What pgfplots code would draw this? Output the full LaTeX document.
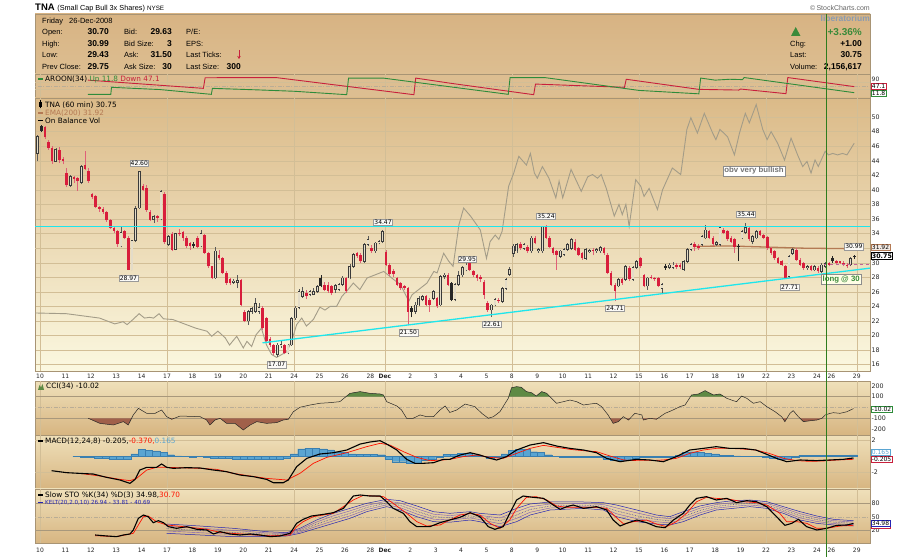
\documentclass[border=0pt]{standalone}
\usepackage{pgfplots}
\pgfplotsset{compat=1.18}
\usepackage{pgfplotstable}
\usetikzlibrary{arrows.meta}
\usepackage{fontspec}
\setmainfont{Liberation Sans}
\newfontfamily\dv{DejaVu Sans}

\definecolor{cRed}{HTML}{D81E3C}
\definecolor{cWickRed}{HTML}{E06078}
\definecolor{cHollow}{HTML}{3A3A3A}
\definecolor{cHollowIn}{HTML}{E4DCC8}
\definecolor{cCyan}{HTML}{1EE6EC}
\definecolor{cObv}{HTML}{A39C88}
\definecolor{cEma}{HTML}{B47A54}
\definecolor{cAUp}{HTML}{2E8B3A}
\definecolor{cADn}{HTML}{C8203C}
\definecolor{cGrid}{HTML}{D2BE96}
\definecolor{cGridD}{HTML}{A8987C}
\definecolor{cBorder}{HTML}{A89474}
\definecolor{cCciG}{HTML}{5E8A44}
\definecolor{cCciB}{HTML}{A0604A}
\definecolor{cHist}{HTML}{5AA5D2}
\definecolor{cHistEdge}{HTML}{3A7FB0}
\definecolor{cKelt}{HTML}{2424B4}
\definecolor{cKeltIn}{HTML}{7A5AB8}
\definecolor{cVline}{HTML}{2E7D1E}
\definecolor{cInfoT}{HTML}{D7B383}
\definecolor{cInfoB}{HTML}{DDBE91}
\definecolor{cPanT}{HTML}{EFE0BA}
\definecolor{cPanB}{HTML}{D7B581}
\definecolor{cMainT}{HTML}{DBBA88}
\definecolor{cMainM}{HTML}{F0DDB0}
\definecolor{cMainB}{HTML}{FBF8E0}
\definecolor{cGreenT}{HTML}{3A8A3A}
\definecolor{cLib}{HTML}{8A9BB0}

% ---------------- candles: x o h l c ----------------
\pgfplotstableread{
x o h l c
-1 45.0 47.5 43.9 47.3
4 43.9 45.8 43.8 45.5
8 40.6 42.0 40.4 41.8
11 41.0 43.4 40.8 43.2
22 32.3 34.9 32.1 34.1
25 29.0 33.1 28.97 33.0
26 33.0 37.8 32.8 37.5
27 37.5 42.6 37.4 42.5
31 35.9 36.6 35.5 36.4
33 36.0 40.0 35.8 39.8
35 32.5 33.8 32.3 33.6
37 31.8 34.1 31.7 34.0
44 32.3 34.5 32.1 34.0
48 27.9 32.2 27.8 31.6
53 27.3 27.7 27.1 27.5
54 27.3 28.3 26.5 27.6
57 22.0 23.5 21.5 23.3
58 23.3 23.9 23.0 23.7
59 23.3 25.1 23.1 24.4
60 23.3 24.5 23.0 23.9
65 17.4 19.0 17.07 18.7
66 18.6 19.2 18.3 18.8
68 17.6 18.8 17.4 18.7
69 18.7 22.6 18.6 22.4
70 22.4 24.0 22.2 23.8
71 23.8 26.4 23.6 26.0
72 25.4 26.6 25.2 26.0
74 25.6 26.2 25.4 26.0
75 25.6 26.5 25.5 26.0
76 26.0 26.9 25.9 26.7
81 26.3 27.1 25.9 26.9
82 26.3 27.2 26.1 27.0
83 27.0 28.2 26.8 27.9
85 27.9 29.8 27.7 29.5
86 29.5 31.3 29.3 31.1
89 30.2 32.7 30.0 32.5
90 32.5 33.6 32.3 33.2
92 31.6 32.9 31.4 32.7
93 32.7 33.1 32.5 32.9
94 32.9 34.47 32.7 34.3
103 23.3 24.6 23.0 24.2
104 24.2 25.4 24.0 25.1
105 24.9 25.6 24.7 25.4
108 25.1 26.2 24.9 26.0
110 24.2 28.3 24.0 28.1
111 28.1 28.6 27.8 28.3
114 24.9 27.2 24.7 27.0
115 27.0 28.8 26.8 28.3
116 28.3 29.5 28.1 29.3
117 29.0 29.95 28.8 29.7
124 23.5 24.4 22.61 24.2
125 24.2 25.1 24.0 24.9
127 24.7 26.7 24.5 26.5
128 26.5 27.9 26.3 27.7
129 28.4 29.4 28.2 29.1
130 31.3 32.5 30.8 32.3
131 31.6 32.7 31.4 32.5
133 32.0 32.7 31.8 32.5
135 31.6 33.6 31.4 33.4
137 31.6 32.0 31.4 31.8
138 31.6 35.1 31.4 35.0
143 30.9 31.8 30.7 31.6
144 31.1 32.0 30.9 31.8
145 31.8 32.7 31.6 32.5
146 32.0 33.4 31.8 33.2
150 30.6 32.0 30.4 31.8
151 31.5 31.9 31.3 31.7
153 31.6 32.0 31.4 31.8
154 31.6 32.3 31.4 32.1
159 26.8 27.9 26.6 27.7
161 27.7 29.7 27.5 29.5
163 27.7 29.5 27.5 29.3
164 29.3 30.4 29.1 30.2
167 26.8 28.1 26.3 27.9
171 26.5 27.2 25.7 27.0
173 29.3 29.9 29.1 29.7
174 29.3 30.1 29.1 29.7
177 29.1 30.4 28.9 30.2
178 30.2 32.0 30.0 31.8
179 31.8 32.7 31.6 32.5
182 32.5 33.8 32.3 33.6
183 33.4 35.2 33.2 34.5
186 32.5 33.0 32.3 32.8
187 32.5 35.0 32.3 34.8
193 33.4 34.5 33.2 34.3
194 34.1 35.44 33.9 34.8
196 32.9 33.8 32.5 33.6
197 33.4 34.5 33.2 34.3
206 28.1 31.0 27.9 30.9
207 31.3 32.0 31.1 31.8
211 29.3 29.7 29.0 29.5
213 29.0 29.7 28.8 29.5
215 28.8 29.9 28.6 29.7
216 29.5 30.1 29.3 29.9
223 29.7 30.8 29.5 30.6
}\upC

\pgfplotstableread{
x o h l c
0 48.8 48.9 47.9 48.1
42 32.6 32.8 32.0 32.3
77 27.9 28.3 26.6 26.8
102 23.8 24.0 22.5 23.3
113 27.2 27.4 24.7 24.9
172 29.6 29.8 29.0 29.3
192 32.3 32.5 30.2 32.1
218 30.7 30.9 30.0 30.2
224 30.85 30.99 30.5 30.75
}\bkC

\pgfplotstableread{
x o h l c
1 48.6 48.7 47.0 47.2
2 46.6 46.9 45.5 45.8
3 45.8 46.0 43.6 43.9
5 45.5 45.9 43.7 44.1
6 44.3 44.5 43.5 44.0
7 42.3 43.0 40.4 40.6
9 41.7 41.9 41.0 41.5
10 41.6 41.8 39.9 41.2
12 43.4 45.3 42.7 42.9
13 42.6 43.0 41.0 41.2
14 39.4 39.6 38.8 39.0
15 39.2 39.3 37.5 37.7
16 37.6 37.8 37.0 37.4
17 37.4 37.6 36.7 37.0
18 37.0 37.1 35.6 35.8
19 35.8 36.0 34.6 34.8
20 34.8 35.0 34.1 34.4
21 34.3 34.5 32.2 32.5
23 34.3 34.5 33.2 33.4
24 33.4 33.6 28.97 29.0
28 40.5 40.8 39.8 40.0
29 40.2 40.6 37.0 37.3
30 37.0 37.2 35.7 35.9
32 36.4 36.6 35.6 36.2
34 39.5 39.7 32.6 32.8
36 34.0 34.2 31.6 31.8
38 34.1 34.6 33.6 33.9
39 34.2 34.4 33.0 33.4
40 33.4 33.6 32.0 32.3
41 32.7 32.9 31.8 32.3
43 33.4 33.6 32.0 32.2
45 33.8 34.0 31.2 31.4
46 31.3 31.5 29.3 29.5
47 29.5 29.6 27.7 27.9
49 31.1 31.8 30.4 30.6
50 30.6 30.8 28.4 28.6
51 28.6 28.8 27.0 27.2
52 27.7 27.9 27.0 27.2
55 27.6 27.8 24.0 24.2
56 23.3 23.5 21.8 22.0
61 23.8 24.0 20.8 21.0
62 22.4 22.6 19.0 19.2
63 19.5 19.8 18.4 18.7
64 18.7 18.9 17.3 17.6
67 18.7 18.9 17.4 17.6
73 25.9 26.2 25.0 25.4
78 27.0 27.4 26.1 26.3
79 27.0 27.3 25.9 26.1
80 26.8 27.0 25.5 25.8
84 27.9 28.1 25.9 26.1
87 31.3 31.5 30.7 30.9
88 31.1 31.3 30.0 30.2
91 32.0 32.4 31.4 31.6
95 31.5 31.7 29.5 29.7
96 29.7 29.9 28.2 28.4
97 28.8 29.1 28.0 28.4
98 27.9 28.1 26.8 27.0
99 27.2 27.4 26.3 26.5
100 26.8 27.0 26.2 26.5
101 26.5 26.6 21.5 23.3
106 25.4 25.6 24.0 24.2
107 24.9 25.1 23.3 24.2
109 25.1 25.3 23.8 24.0
112 28.3 28.6 26.8 27.0
118 29.9 29.95 28.8 29.0
119 28.8 29.0 28.1 28.3
120 28.3 28.5 27.5 27.9
121 28.1 28.3 27.3 27.7
122 27.4 27.6 25.0 25.6
123 24.5 24.8 23.3 23.5
126 24.9 25.2 24.5 24.7
132 32.5 32.8 31.8 32.0
134 32.2 32.4 31.4 31.6
136 33.4 33.6 32.5 32.7
139 35.0 35.24 33.2 33.4
140 33.4 33.6 32.0 32.2
141 32.0 32.2 31.1 31.3
142 31.6 31.8 29.0 31.1
147 32.9 33.2 31.6 31.8
148 32.0 32.2 30.9 31.1
149 31.3 31.5 30.4 30.6
152 31.8 32.0 31.0 31.6
155 32.0 32.2 31.1 31.3
156 31.1 31.3 28.4 28.6
157 28.6 28.8 26.8 27.0
158 27.0 27.2 24.71 26.1
160 27.7 27.9 27.0 27.2
162 29.3 29.5 27.5 27.7
165 30.6 30.8 29.3 29.5
166 28.3 28.5 26.6 26.8
168 28.1 28.3 27.7 27.9
169 27.9 28.1 27.5 27.7
170 27.9 28.1 26.6 26.8
175 29.7 29.9 29.2 29.4
176 29.7 29.9 29.2 29.4
180 32.5 32.8 31.6 32.2
181 32.3 32.5 31.8 32.0
184 34.3 34.5 33.2 33.4
185 33.4 33.6 32.3 32.5
188 34.5 34.8 33.9 34.1
189 34.3 34.5 33.0 33.2
190 33.4 33.6 32.7 32.9
191 33.2 33.4 31.4 32.2
195 34.7 34.9 33.0 33.2
198 34.3 34.5 33.6 33.8
199 33.8 34.0 33.2 33.4
200 33.5 33.7 31.8 32.0
201 32.0 32.2 31.1 31.3
202 31.6 31.8 30.4 30.6
203 30.6 30.8 29.8 30.0
204 30.2 30.4 29.5 29.7
205 29.5 29.7 27.71 27.9
208 31.8 32.0 30.2 30.4
209 30.4 30.6 29.5 29.7
210 29.9 30.1 29.0 29.3
212 29.5 29.7 28.8 29.0
214 29.3 29.5 28.6 28.8
217 29.9 30.1 29.5 29.7
219 30.2 30.4 29.8 30.0
220 30.2 30.3 29.8 30.0
221 30.0 30.2 29.5 29.7
222 29.7 29.9 29.3 29.5
}\dnC

\pgfplotstableread{
x y
-1.4 23.1
7.3 23.0
16.4 22.4
20.6 21.6
22.9 21.9
24.0 21.5
25.6 22.2
27.3 23.0
28.8 22.4
30.2 22.5
31.3 22.4
32.8 23.0
34.0 22.3
36.6 22.2
40.3 21.5
43.0 21.0
46.0 20.6
47.3 19.9
49.0 20.6
51.0 19.7
52.2 18.7
54.2 19.9
56.0 18.3
57.0 19.2
58.3 18.5
59.5 20.1
61.0 21.0
62.4 18.7
63.8 17.4
65.2 17.0
66.6 17.4
68.1 17.8
69.6 19.7
70.7 21.5
72.1 22.4
73.4 21.3
75.3 22.2
77.1 23.9
78.5 23.5
79.9 24.0
81.7 24.0
83.2 25.4
84.5 26.1
86.3 27.2
88.1 26.3
90.1 27.9
94.7 28.8
97.4 27.7
99.3 27.0
101.6 24.7
102.5 25.6
104.8 26.5
106.6 27.2
108.5 28.8
109.4 28.6
111.2 31.3
112.6 30.2
113.8 29.5
115.4 35.2
116.7 37.5
118.6 36.4
121.3 34.5
123.0 30.6
124.0 32.9
125.4 33.8
126.4 33.2
127.3 34.3
129.1 40.5
130.5 42.3
131.9 44.6
134.0 43.4
135.1 45.0
136.2 42.3
137.0 41.6
138.4 43.2
140.2 41.6
142.1 38.9
143.0 41.2
144.0 38.9
146.3 42.8
149.1 39.8
150.9 41.8
152.2 42.1
153.6 41.6
154.6 42.1
156.0 40.2
158.2 36.4
159.5 38.0
160.4 36.6
161.4 38.0
162.3 35.0
164.1 41.4
165.5 40.5
166.4 39.1
167.8 40.2
170.1 37.3
171.5 40.0
174.2 43.0
176.5 42.1
178.2 48.3
179.3 49.9
181.1 47.8
183.0 50.5
185.3 47.8
186.2 46.9
187.3 48.3
189.4 47.3
191.3 44.8
192.7 47.8
194.3 50.5
195.4 49.2
197.3 51.7
199.1 48.3
200.3 46.9
201.4 48.0
203.2 46.4
205.1 44.1
206.9 47.1
208.7 44.8
210.1 43.2
211.3 43.9
212.4 42.3
213.5 44.1
214.4 43.2
216.3 45.3
217.2 44.8
218.4 45.0
219.7 44.8
221.1 45.0
222.3 44.8
224.3 46.4
}\obv

\pgfplotstableread{
x y
13.2 2
19.5 2
19.7 43
33 30
47.2 2
47.5 37
60 28
70 20
84.5 0
85 97
94.5 97
113 46
129 2
129.5 100
139 100
165 25
181.5 5
182 97
186 85
190 90
193.5 88
194 100
224.3 11.8
}\aup

\pgfplotstableread{
x y
13.2 85
45 37
45.5 99
65 100
103 0
103.5 97
113 67
136 0
136.5 62
161 43
161.5 90
181.5 31
192.5 27
193 33
205.5 6
206 100
224.3 47.1
}\adn

\pgfplotstableread{
x y
13.3 -100
16.5 -147
20.2 -162
23.0 -131
24.3 -162
25.7 -69
27.1 -8
29.4 -54
31.7 -54
33.5 -23
34.9 -85
36.3 -109
38.6 -79
44.1 -85
45.9 -116
46.8 -162
48.2 -116
49.6 -100
51.4 -147
53.7 -147
56.0 -208
57.9 -162
59.7 -131
62.4 -147
65.2 -140
67.0 -116
68.4 -109
69.8 -39
71.6 2
74.4 23
77.1 39
79.9 45
82.6 54
85.4 131
88.2 147
90.9 131
93.7 125
94.6 116
95.5 54
98.3 14
99.6 -23
101.0 -100
102.8 -100
104.7 -69
106.5 -85
108.4 -85
110.2 -23
111.6 14
112.9 -46
114.8 -23
117.1 32
119.8 8
121.7 -54
123.5 -100
124.9 -85
126.7 -39
129.0 85
129.9 183
131.3 193
132.6 187
134.0 147
135.4 137
136.7 106
138.2 147
139.6 131
140.9 85
142.3 39
144.2 54
146.0 69
147.8 54
149.7 23
151.5 32
153.3 39
154.7 8
156.5 -69
157.9 -147
159.3 -131
160.7 -85
162.1 -116
163.9 -54
165.8 -69
166.2 -116
168.0 -100
169.8 -109
172.2 -54
174.0 -29
176.3 8
177.7 23
179.5 116
181.4 125
183.2 156
185.5 116
187.3 125
189.2 85
191.0 63
191.9 54
193.3 106
194.7 85
196.5 39
198.4 54
200.2 8
202.5 -39
204.3 -85
205.2 -131
206.6 -54
207.5 -29
208.9 -85
210.3 -131
212.3 -122
214.0 -116
215.4 -100
216.3 -69
217.7 -54
218.6 -48
220.4 -54
222.3 -39
224.1 -10
}\cci

\pgfplotstableread{
x y
3.2 -1.76
7.3 -2.00
11.0 -2.09
14.7 -2.17
18.4 -2.58
22.0 -2.90
24.8 -3.31
26.2 -2.82
27.5 -1.68
29.4 -1.35
32.1 -1.35
33.5 -0.94
34.9 -1.35
36.7 -1.47
40.4 -1.39
44.1 -1.43
47.8 -1.68
51.4 -1.88
55.1 -2.29
58.8 -2.49
62.4 -2.82
64.3 -3.23
67.0 -3.23
68.4 -2.90
70.7 -1.27
73.5 -0.25
77.1 0.28
80.8 0.44
84.5 0.77
88.2 1.50
90.9 1.75
93.7 1.91
95.5 1.50
98.3 0.77
101.0 -0.37
103.3 -0.86
105.6 -0.86
108.4 -0.78
111.1 -0.37
112.9 -0.37
115.7 0.16
118.5 0.44
121.2 0.16
124.0 -0.25
125.8 -0.45
128.5 -0.04
131.3 0.77
135.0 1.38
138.7 1.67
142.3 1.26
146.0 0.97
149.7 0.77
153.3 0.44
156.1 -0.25
159.8 -0.66
164.4 -0.37
168.0 -0.45
171.7 -0.66
175.3 -0.04
179.0 0.77
182.7 0.97
186.3 1.18
190.0 0.97
193.6 0.97
197.2 0.77
200.0 0.28
202.9 -0.25
205.7 -0.66
209.4 -0.45
213.9 -0.53
217.6 -0.45
221.3 -0.37
224.1 -0.205
}\macdK

\pgfplotstableread{
x y
11.0 -2.09
16.5 -2.41
22.0 -2.82
24.8 -2.98
26.6 -2.70
29.4 -1.68
32.1 -1.35
34.9 -1.35
44.1 -1.47
48.7 -1.60
53.3 -2.09
57.8 -2.41
62.4 -2.70
68.0 -2.90
71.6 -2.09
75.3 -0.86
79.0 -0.13
84.5 0.44
90.0 1.18
93.7 1.59
96.4 1.38
100.1 0.57
103.8 -0.13
107.4 -0.53
111.1 -0.45
112.9 -0.37
116.6 -0.04
120.2 0.16
124.0 -0.13
127.6 -0.25
131.3 0.36
135.0 0.97
138.7 1.34
142.3 1.10
146.0 0.85
149.7 0.69
153.3 0.57
157.0 0.04
160.8 -0.45
164.4 -0.53
168.0 -0.53
171.7 -0.45
175.3 -0.25
179.0 0.36
182.7 0.77
186.3 0.97
190.0 0.97
193.6 0.89
197.2 0.77
200.9 0.36
204.8 -0.25
208.5 -0.53
212.1 -0.62
215.8 -0.57
219.5 -0.45
224.1 -0.37
}\macdS

\pgfplotstableread{
x y
10 -0.03
12 -0.05
14 -0.15
16 -0.25
18 -0.25
20 -0.35
22 -0.37
24 -0.37
26 0.3
28 0.85
30 0.75
32 0.65
34 0.45
36 0.2
38 0.05
40 0.02
42 -0.05
44 0.02
46 -0.1
48 -0.2
50 -0.2
52 -0.25
54 -0.35
56 -0.37
58 -0.37
60 -0.37
62 -0.37
64 -0.37
66 -0.35
68 -0.2
70 0.3
72 0.9
74 1.0
76 1.0
78 0.9
80 0.8
82 0.57
84 0.5
86 0.3
88 0.28
90 0.28
92 0.25
94 0.2
96 -0.3
98 -0.66
100 -0.66
102 -0.86
104 -0.8
106 -0.45
108 -0.3
110 -0.1
112 0.25
114 0.28
116 0.35
118 0.37
120 0.2
122 0.02
124 -0.2
126 -0.15
128 0.3
130 0.7
132 0.85
134 0.85
136 0.57
138 0.5
140 0.2
142 0.02
144 -0.12
146 -0.12
148 -0.12
150 -0.12
152 -0.12
154 -0.15
156 -0.3
158 -0.45
160 -0.45
162 -0.45
164 -0.2
166 -0.08
168 -0.08
170 -0.08
172 -0.08
174 -0.05
176 0.15
178 0.5
180 0.57
182 0.5
184 0.37
186 0.3
188 0.15
190 0.12
192 0.05
194 0.02
196 0.02
198 0.02
200 -0.15
202 -0.2
204 -0.37
206 -0.3
208 -0.1
210 0.12
212 0.12
214 0.12
216 0.12
218 0.12
220 0.14
222 0.15
224 0.165
}\hist

\pgfplotstableread{
x y
15.2 9.0
18.4 6.8
21.1 5.3
23.0 9.0
24.8 11.3
25.7 20.3
27.1 46.5
28.5 53.9
29.8 50.2
31.2 36.7
32.6 41.2
34.0 36.7
35.4 27.7
37.6 24.0
40.4 27.7
43.2 21.8
45.9 20.3
47.8 11.3
49.6 16.5
52.3 11.3
55.1 9.0
57.9 11.3
60.6 9.0
63.4 5.3
66.1 6.8
68.9 12.8
70.7 35.2
72.5 44.2
74.8 51.7
78.1 55.4
80.8 59.2
83.6 68.9
86.3 96.6
88.2 98.9
90.9 96.6
93.7 96.6
95.5 83.9
97.3 68.9
100.1 57.7
101.9 39.0
103.8 27.7
107.4 27.7
110.2 36.7
112.5 42.0
115.7 48.7
118.5 59.2
121.2 50.2
123.5 27.7
125.3 21.8
127.6 27.7
129.4 57.7
131.3 87.7
133.1 96.6
135.8 93.7
138.7 91.4
141.4 76.4
143.3 66.7
145.1 72.7
146.9 76.4
149.7 68.9
153.3 72.7
156.1 65.2
157.9 42.7
159.8 29.2
161.6 35.2
164.4 42.7
167.1 36.7
169.8 27.7
172.2 25.5
174.5 42.7
177.2 57.7
179.0 76.4
180.9 91.4
183.6 95.2
186.3 87.7
189.2 91.4
191.9 81.7
194.7 86.2
197.4 83.9
200.2 72.7
202.9 50.2
205.2 30.7
207.1 35.2
208.9 44.2
211.2 27.7
214.0 20.3
216.7 24.0
219.5 30.7
222.3 31.5
224.1 34.98
}\stoK

\pgfplotstableread{
x y
15.2 7.5
21.1 5.3
25.7 12.8
28.5 50.2
29.8 51.7
32.1 39.0
34.9 31.5
40.4 27.0
45.9 22.0
49.6 15.0
52.3 13.0
57.9 10.0
63.4 7.0
68.9 9.0
70.7 27.7
72.5 39.0
75.3 50.2
80.8 57.7
86.3 87.7
89.1 98.2
94.6 95.2
97.3 80.2
101.0 57.7
103.8 39.0
106.5 29.2
110.2 31.5
112.0 39.0
115.7 53.9
118.5 57.7
121.2 53.9
124.0 35.2
126.7 24.0
129.4 42.7
131.3 68.9
134.0 93.7
136.7 95.2
139.6 87.7
142.3 74.2
145.1 71.2
149.7 71.2
153.3 71.2
156.1 68.9
159.0 46.5
160.8 33.7
163.5 39.0
167.1 42.7
169.8 33.7
172.6 27.7
175.3 39.0
178.1 57.7
180.9 83.9
183.6 93.7
186.3 91.4
190.0 89.2
193.6 83.9
197.4 81.7
200.2 76.4
203.8 57.7
205.7 39.0
208.5 39.0
211.2 35.2
214.0 24.0
216.7 24.0
220.4 29.2
224.1 30.7
}\stoD

\pgfplotstableread{
x up iu mid il lo
34.9 33.7 28.5 23.3 18.1 12.8
44.1 29.2 24.2 19.1 14.1 9.0
53.3 24.0 19.4 14.7 10.0 5.3
62.4 16.5 13.7 10.9 8.1 5.3
68.0 14.3 12.5 10.6 8.7 6.8
71.6 24.0 21.2 18.4 15.6 12.8
76.2 42.7 38.1 33.4 28.7 24.0
80.8 57.7 52.1 46.5 40.9 35.2
85.4 68.9 63.3 57.7 52.1 46.5
90.0 80.2 75.5 70.8 66.1 61.4
95.5 89.2 85.1 81.0 76.9 72.7
99.2 86.2 81.0 75.7 70.5 65.2
103.8 74.2 68.2 62.2 56.2 50.2
108.4 61.4 55.8 50.2 44.6 39.0
112.9 57.7 52.7 47.7 42.7 37.7
118.5 61.4 56.8 52.1 47.4 42.7
121.1 57.7 53.1 48.4 43.7 39.0
126.7 53.9 47.4 40.8 34.3 27.7
131.3 68.9 61.5 54.0 46.5 39.0
135.0 78.7 72.5 66.3 60.1 53.9
140.5 83.2 78.7 74.2 69.7 65.2
149.7 83.2 79.7 76.1 72.5 68.9
155.2 81.7 77.6 73.5 69.4 65.2
158.8 76.4 69.9 63.3 56.8 50.2
164.4 65.2 58.7 52.1 45.6 39.0
169.8 53.9 48.9 43.8 38.8 33.7
173.5 50.2 45.6 40.9 36.2 31.5
177.2 61.4 55.8 50.2 44.6 39.0
181.8 74.2 69.2 64.1 59.0 53.9
186.3 81.7 77.6 73.5 69.4 65.2
190.9 86.2 81.9 77.6 73.3 68.9
195.6 87.7 84.0 80.2 76.5 72.7
200.2 83.9 80.2 76.4 72.7 68.9
204.8 72.7 69.0 65.2 61.5 57.7
209.4 61.4 56.8 52.1 47.4 42.7
214.0 51.7 47.6 43.5 39.4 35.2
218.6 44.2 41.1 37.9 34.7 31.5
224.1 41.2 38.2 35.2 32.2 29.2
}\kelt

\newcommand{\wick}[2]{\addplot[draw=none, mark=none, forget plot,
  error bars/.cd, y dir=plus, y explicit, error mark=none,
  error bar style={draw=#2, line width=0.55pt}]
  table[x expr=\thisrow{x}+0.35, y=l, y error plus expr=\thisrow{h}-\thisrow{l}] {#1};}
\newcommand{\body}[4]{\addplot[draw=none, mark=none, forget plot,
  error bars/.cd, y dir=plus, y explicit, error mark=none,
  error bar style={draw=#2, line width=#3}]
  table[x expr=\thisrow{x}+0.35, y expr={min(\thisrow{o},\thisrow{c})+(#4)},
        y error plus expr={max(abs(\thisrow{o}-\thisrow{c})-2*(#4),0.11)}] {#1};}

\newcommand{\lf}{\dv\fontsize{7.3}{8}\selectfont}
\newcommand{\rf}{\dv\fontsize{6}{7}\selectfont}

\pgfplotsset{
  panel/.style={
    scale only axis, width=835pt, anchor=south west,
    xmin=-1.378, xmax=228.65,
    xtick=\empty,
    extra x ticks={0,35,70,95,130,165,200,225},
    extra x tick labels={},
    extra x tick style={grid=major},
    major tick length=0pt, tick style={draw=none},
    major grid style={draw=cGrid, line width=0.4pt},
    axis line style={draw=cBorder, line width=0.5pt},
    yticklabel pos=right,
    yticklabel style={font=\dv\fontsize{6.3}{7}\selectfont, text=black!85, inner sep=1.5pt},
    xticklabel style={font=\dv\fontsize{6}{7}\selectfont, text=black!85},
    /pgf/number format/assume math mode=true,
    axis background/.style={top color=cPanT, bottom color=cPanB},
  },
  dayticks/.style={
    xtick={0,7,14,21,28,35,42,49,56,63,70,77,84,91,95,102,109,116,123,130,137,144,151,158,165,172,179,186,193,200,207,214,218,225},
    xticklabels={10,11,12,13,14,17,18,19,20,21,24,25,26,28,\textbf{Dec},2,3,4,5,8,9,10,11,12,15,16,17,18,19,22,23,24,26,29},
  },
  hl/.style={forget plot, line width=0.5pt, draw=cGridD},
  hd/.style={forget plot, line width=0.5pt, draw=cGridD!80, dash pattern=on 4pt off 1.5pt on 1pt off 1.5pt},
  cg/.style={fill=cCciG, draw=none, forget plot},
  cb/.style={fill=cCciB, draw=none, forget plot},
}

\begin{document}
\begin{tikzpicture}[x=1pt,y=1pt]
\path[use as bounding box] (0,0) rectangle (900,557);
\fill[white] (0,0) rectangle (900,557);

% ---------------- title ----------------
\node[anchor=base west, inner sep=0pt] at (35,546) {\bfseries\fontsize{9.5}{10}\selectfont TNA\ \mdseries\fontsize{7.3}{8}\selectfont (Small Cap Bull 3x Shares)\ \fontsize{6.3}{7}\selectfont NYSE};
\node[anchor=base east, inner sep=0pt, text=black!60] at (870,546.5) {\fontsize{7}{8}\selectfont \textcopyright\,StockCharts.com};

% ---------------- info panel ----------------
\fill[top color=cInfoT, bottom color=cInfoB] (35,483) rectangle (870,543);
\draw[cBorder, line width=0.5pt] (35,483) rectangle (870,543);
\begin{scope}[every node/.style={inner sep=0pt, font=\fontsize{7.5}{8}\selectfont}]
\node[anchor=base west] at (42,533.3) {Friday};
\node[anchor=base west] at (69,533.3) {26-Dec-2008};
\node[anchor=base west] at (42,522.3) {Open:};
\node[anchor=base west] at (42,510.8) {High:};
\node[anchor=base west] at (42,499.3) {Low:};
\node[anchor=base west] at (42,487.3) {Prev Close:};
\node[anchor=base west] at (124,522.3) {Bid:};
\node[anchor=base west] at (124,510.8) {Bid Size:};
\node[anchor=base west] at (124,499.3) {Ask:};
\node[anchor=base west] at (124,487.3) {Ask Size:};
\node[anchor=base west] at (186,522.3) {P/E:};
\node[anchor=base west] at (186,510.8) {EPS:};
\node[anchor=base west] at (186,499.3) {Last Ticks:};
\node[anchor=base west] at (186,487.3) {Last Size:};
\node[anchor=base west] at (790,510.8) {Chg:};
\node[anchor=base west] at (790,499.3) {Last:};
\node[anchor=base west] at (790,487.3) {Volume:};
\end{scope}
\begin{scope}[every node/.style={inner sep=0pt, anchor=base east, font=\bfseries\fontsize{8.5}{9}\selectfont}]
\node at (109,522.3) {30.70};
\node at (109,510.8) {30.99};
\node at (109,499.3) {29.43};
\node at (109,487.3) {29.75};
\node at (172,522.3) {29.63};
\node at (172,510.8) {3};
\node at (172,499.3) {31.50};
\node at (172,487.3) {30};
\node at (241,487.3) {300};
\node at (862,510.8) {+1.00};
\node at (862,499.3) {30.75};
\node at (862,487.3) {2,156,617};
\node[text=cGreenT, font=\bfseries\fontsize{10}{11}\selectfont] at (862,521.8) {+3.36\%};
\node[text=cLib, font=\bfseries\fontsize{8.5}{9}\selectfont] at (870,535.5) {liberatorium};
\end{scope}
\draw[-{Stealth[length=3pt,width=3.5pt]}, line width=1pt, cADn] (239,507) -- (239,498);
\fill[cGreenT] (791,521) -- (800.5,521) -- (795.7,530) -- cycle;

% ---------------- Aroon ----------------
\begin{axis}[panel, at={(35pt,459pt)}, height=24pt, ymin=-19.3, ymax=120.8,
  ytick={90}, yticklabels={90}, yticklabel style={font=\rf},
  axis background/.style={top color=cInfoB, bottom color=cInfoB}]
\addplot[hl, draw=cGrid] coordinates {(-5,70) (235,70)};
\addplot[hl, draw=cGrid] coordinates {(-5,30) (235,30)};
\addplot[hd] coordinates {(-5,50) (235,50)};
\addplot[cADn, line width=0.9pt, forget plot] table {\adn};
\addplot[cAUp, line width=0.9pt, forget plot] table {\aup};
\end{axis}
\draw[cAUp, line width=1.3pt] (38,478) -- (43,478);
\node[anchor=west, inner sep=0pt, font=\lf] at (45,478) {AROON(34) {\color{cAUp}Up 11.8} {\color{cADn}Down 47.1}};

% ---------------- Main price panel ----------------
\begin{axis}[panel, dayticks, at={(35pt,186pt)}, height=273pt,
  ymin=15.135, ymax=52.61, ytick={16,18,...,30,34,36,...,50}, ymajorgrids,
  extra y ticks={32}, extra y tick labels={}, extra y tick style={ymajorgrids},
  axis background/.style={top color=cMainT, middle color=cMainM, bottom color=cMainB}]
\addplot[cObv, line width=0.9pt, forget plot] table {\obv};
\addplot[cEma, line width=1.3pt, forget plot] coordinates {(180,32.25) (190,32.3) (200,32.15) (210,32.0) (224.3,31.92)};
\wick{\upC}{black!65}
\wick{\bkC}{black!85}
\wick{\dnC}{cWickRed}
\body{\dnC}{cRed}{2.6pt}{0}
\body{\bkC}{black!85}{2.6pt}{0}
\body{\upC}{cHollow}{2.7pt}{-0.05}
\body{\upC}{cHollowIn}{1.3pt}{0.06}
\addplot[cCyan, line width=1.3pt, forget plot] coordinates {(-5,35) (235,35)};
\addplot[cCyan, line width=1.3pt, forget plot] coordinates {(61.3,19.0) (228.9,29.27)};
\addplot[magenta!50!gray, line width=0.6pt, dashed, forget plot] coordinates {(216,29.8) (230,29.8)};
\begin{scope}[every node/.style={draw=black!40, fill=white!85!cHollowIn, inner sep=0.8pt, font=\dv\fontsize{6}{7}\selectfont, line width=0.4pt}]
\node at (axis cs:27.35,43.7) {42.60};
\node at (axis cs:24.35,27.9) {28.97};
\node at (axis cs:65.2,16.0) {17.07};
\node at (axis cs:94.5,35.6) {34.47};
\node at (axis cs:101.5,20.4) {21.50};
\node at (axis cs:117.7,30.5) {29.95};
\node at (axis cs:124.5,21.5) {22.61};
\node at (axis cs:139.4,36.4) {35.24};
\node at (axis cs:158.4,23.7) {24.71};
\node at (axis cs:194.5,36.6) {35.44};
\node at (axis cs:206.5,26.6) {27.71};
\node at (axis cs:224.2,32.2) {30.99};
\end{scope}
\node[draw=black!45, fill=white, inner sep=1.2pt, text=black!55, font=\bfseries\fontsize{7.8}{8}\selectfont] at (axis cs:196.7,42.6) {obv very bullish};
\node[draw=black!45, fill=white!90!yellow, inner sep=1.2pt, text=cGreenT, font=\bfseries\fontsize{7.8}{8}\selectfont] at (axis cs:220.7,27.7) {long @ 30};
\end{axis}
% main legend
\fill[black] (39,450) rectangle (41.6,455);
\draw[black, line width=0.4pt] (40.3,448.5) -- (40.3,456.5);
\node[anchor=west, inner sep=0pt, font=\lf] at (45,452) {TNA (60 min) 30.75};
\draw[cEma, line width=1.3pt] (38,444) -- (43,444);
\node[anchor=west, inner sep=0pt, font=\lf, text=cEma] at (45,444) {EMA(200) 31.92};
\draw[black, line width=1.3pt] (38,436.3) -- (43,436.3);
\node[anchor=west, inner sep=0pt, font=\lf] at (45,436.3) {On Balance Vol};

% ---------------- CCI ----------------
\begin{axis}[panel, at={(35pt,122pt)}, height=53.5pt, ymin=-254.6, ymax=240.7,
  ytick={-200,-100,100,200}, yticklabels={-200,-100,100,200}]
\addplot[hl] coordinates {(-5,100) (235,100)};
\addplot[hl] coordinates {(-5,-100) (235,-100)};
\addplot[hd] coordinates {(-5,0) (235,0)};
\addplot[cg] coordinates {(84.27,100) (85.4,131) (88.2,147) (90.9,131) (93.7,125) (94.6,116) (94.83,100)};
\addplot[cg] coordinates {(129.14,100) (129.9,183) (131.3,193) (132.6,187) (134.0,147) (135.4,137) (136.7,106) (138.2,147) (139.6,131) (140.48,100)};
\addplot[cg] coordinates {(179.19,100) (179.5,116) (181.4,125) (183.2,156) (185.5,116) (187.3,125) (188.49,100)};
\addplot[cg] coordinates {(193.14,100) (193.3,106) (193.7,100)};
\addplot[cb] coordinates {(13.3,-100) (16.5,-147) (20.2,-162) (23.0,-131) (24.3,-162) (25.23,-100)};
\addplot[cb] coordinates {(35.78,-100) (36.3,-109) (36.99,-100)};
\addplot[cb] coordinates {(44.97,-100) (45.9,-116) (46.8,-162) (48.2,-116) (49.6,-100) (51.4,-147) (53.7,-147) (56.0,-208) (57.9,-162) (59.7,-131) (62.4,-147) (65.2,-140) (67.0,-116) (68.4,-109) (68.58,-100)};
\addplot[cb] coordinates {(157.06,-100) (157.9,-147) (159.3,-131) (160.24,-100)};
\addplot[cb] coordinates {(161.38,-100) (162.1,-116) (162.56,-100)};
\addplot[cb] coordinates {(166.06,-100) (166.2,-116) (168.0,-100) (169.8,-109) (170.19,-100)};
\addplot[cb] coordinates {(204.59,-100) (205.2,-131) (205.76,-100)};
\addplot[cb] coordinates {(209.36,-100) (210.3,-131) (212.3,-122) (214.0,-116) (215.4,-100)};
\addplot[black!85, line width=0.5pt, forget plot] table {\cci};
\end{axis}
\fill[cCciG] (38,167) -- (39.5,172) -- (41,169.5) -- (42.5,173) -- (44,167) -- cycle;
\node[anchor=west, inner sep=0pt, font=\lf] at (46,170.3) {CCI(34) -10.02};

% ---------------- MACD ----------------
\begin{axis}[panel, at={(35pt,68pt)}, height=54pt, ymin=-4.0, ymax=2.607,
  ytick={-2,2}, yticklabels={-2,2}]
\addplot[hl, draw=cGrid] coordinates {(-5,2) (235,2)};
\addplot[hl, draw=cGrid] coordinates {(-5,-2) (235,-2)};
\addplot[ybar, bar width=2, fill=cHist, draw=cHistEdge, line width=0.3pt, forget plot] table {\hist};
\addplot[red!85!orange, line width=0.7pt, forget plot] table {\macdS};
\addplot[black, line width=1.1pt, forget plot] table {\macdK};
\end{axis}
\draw[black, line width=1.3pt] (38,116) -- (43,116);
\node[anchor=west, inner sep=0pt, font=\lf] at (45,116) {MACD(12,24,8) -0.205,{\color{red!85!orange} -0.370,}{\color{cHist} 0.165}};

% ---------------- Slow STO + KELT ----------------
\begin{axis}[panel, dayticks, at={(35pt,13.5pt)}, height=54.5pt, ymin=-10.1, ymax=112.4,
  ytick={20,50,80}, yticklabels={20,50,80}, xticklabel style={yshift=-1.5pt}]
\addplot[hl] coordinates {(-5,80) (235,80)};
\addplot[hl] coordinates {(-5,20) (235,20)};
\addplot[hd] coordinates {(-5,50) (235,50)};
\addplot[cKelt, line width=0.5pt, forget plot] table[x=x, y=up] {\kelt};
\addplot[cKeltIn, line width=0.4pt, forget plot] table[x=x, y=iu] {\kelt};
\addplot[cKelt!60!gray, line width=0.6pt, densely dotted, forget plot] table[x=x, y=mid] {\kelt};
\addplot[cKeltIn, line width=0.4pt, forget plot] table[x=x, y=il] {\kelt};
\addplot[cKelt, line width=0.5pt, forget plot] table[x=x, y=lo] {\kelt};
\addplot[red!85!orange, line width=0.7pt, forget plot] table {\stoD};
\addplot[black, line width=1.1pt, forget plot] table {\stoK};
\end{axis}
\draw[black, line width=1.3pt] (38,62) -- (43,62);
\node[anchor=west, inner sep=0pt, font=\lf] at (45,62) {Slow STO \%K(34) \%D(3) 34.98,{\color{red!85!orange} 30.70}};
\draw[cKelt, line width=1.2pt] (38,54.7) -- (43,54.7);
\node[anchor=west, inner sep=0pt, font=\dv\fontsize{5.6}{6}\selectfont, text=cKelt] at (45,54.7) {KELT(20,2.0,10) 26.94 - 33.81 - 40.69};

% ---------------- right-side value boxes ----------------
\begin{scope}[every node/.style={anchor=west, fill=white, inner sep=0.7pt, line width=0.5pt, font=\rf}]
\node[draw=cADn] at (871,470.6) {47.1};
\node[draw=cAUp] at (871,463.6) {11.8};
\node[draw=cEma, fill=white!85!cEma] at (871,309.6) {31.92};
\node[draw=black, font=\bfseries\dv\fontsize{6.3}{7}\selectfont] at (871,301.2) {30.75};
\node[draw=cAUp] at (871,148) {-10.02};
\node[draw=cHist, text=cHist] at (871,104.6) {0.165};
\node[draw=cADn] at (871,97.4) {-0.205};
\end{scope}
\draw[cADn, fill=white, line width=0.5pt] (871,28.3) rectangle (890.5,35.2);
\node[anchor=west, fill=white, draw=cKelt, inner sep=0.7pt, line width=0.5pt, font=\rf] at (871,33.5) {34.98};

% ---------------- vertical green line ----------------
\draw[cVline, line width=0.7pt] (826,0) -- (826,543);
\end{tikzpicture}
\end{document}
